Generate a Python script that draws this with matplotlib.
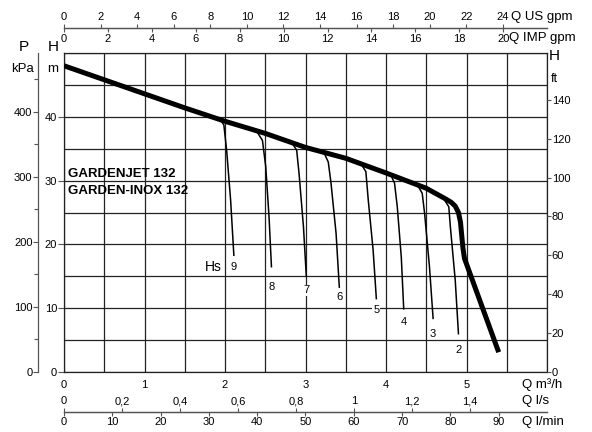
import numpy as np
import matplotlib
matplotlib.use("Agg")
import matplotlib.pyplot as plt
from matplotlib.ticker import MultipleLocator, FixedLocator

plt.rcParams['font.family'] = ['Liberation Sans', 'DejaVu Sans']

W, H = 592, 432

# courbe principale Q (m3/h) / H (m)
main_q = [0.0, 0.5, 1.0, 1.5, 2.0, 2.5, 3.0, 3.5, 4.0, 4.5, 4.73, 4.81, 4.86, 4.9, 4.925, 4.94, 4.955, 4.975, 5.4]
main_h = [48.0, 45.8, 43.6, 41.4, 39.3, 37.4, 35.2, 33.5, 31.2, 28.8, 27.2, 26.6, 26.0, 25.0, 23.5, 21.5, 19.5, 17.8, 3.1]

# courbes Hs (hauteur d'aspiration)
hs_names = ["9", "8", "7", "6", "5", "4", "3", "2"]
hs_q = [
    [1.937, 1.986, 2.02, 2.07, 2.11],
    [2.40, 2.465, 2.506, 2.547, 2.577],
    [2.83, 2.89, 2.92, 2.975, 3.01],
    [3.233, 3.283, 3.317, 3.38, 3.42],
    [3.70, 3.75, 3.78, 3.84, 3.88],
    [4.056, 4.106, 4.14, 4.19, 4.22],
    [4.40, 4.45, 4.48, 4.54, 4.585],
    [4.73, 4.78, 4.80, 4.86, 4.90],
]
hs_h = [
    [39.7, 38.7, 34.8, 26.9, 18.3],
    [37.6, 36.3, 32.2, 24.3, 16.5],
    [35.9, 34.8, 31.1, 22.7, 15.0],
    [34.3, 32.9, 29.6, 21.7, 13.3],
    [32.4, 31.4, 26.9, 19.1, 11.5],
    [31.0, 29.6, 25.9, 18.0, 9.9],
    [29.1, 28.0, 24.8, 16.5, 8.4],
    [26.9, 25.9, 22.7, 14.4, 6.0],
]
hs_label_h = [16.4, 13.3, 12.8, 11.7, 9.7, 7.8, 6.0, 3.5]

# graduations
q_m3h_ticks = [0, 1, 2, 3, 4, 5]
h_m_ticks = [0, 10, 20, 30, 40]
h_ft_ticks = [0, 20, 40, 60, 80, 100, 120, 140]
p_kpa_ticks = [0, 100, 200, 300, 400]
us_gpm_ticks = list(range(0, 25, 2))
imp_gpm_ticks = list(range(0, 21, 2))
ls_ticks = [0, 0.2, 0.4, 0.6, 0.8, 1.0, 1.2, 1.4]
ls_labels = ["0", "0,2", "0,4", "0,6", "0,8", "1", "1,2", "1,4"]
lmin_ticks = list(range(0, 91, 10))

TS = 8  # taille des graduations

fig = plt.figure(figsize=(W / 100, H / 100), dpi=100)
x0, x1, y0, y1 = 64, 547, 53, 372
ax = fig.add_axes([x0 / W, 1 - y1 / H, (x1 - x0) / W, (y1 - y0) / H])
ax.set_xlim(0, 6)
ax.set_ylim(0, 50)

gcol = '#222222'
ax.xaxis.set_major_locator(FixedLocator(q_m3h_ticks))
ax.xaxis.set_minor_locator(MultipleLocator(0.5))
ax.yaxis.set_major_locator(FixedLocator(h_m_ticks))
ax.yaxis.set_minor_locator(MultipleLocator(5))
ax.grid(which='both', color=gcol, lw=0.9)
ax.set_axisbelow(True)
ax.tick_params(axis='x', which='both', length=0, pad=6, labelsize=TS)
ax.tick_params(axis='y', which='major', length=4.5, width=0.8, pad=0.5, labelsize=TS, color='#555')
ax.tick_params(axis='y', which='minor', length=0)
for s in ax.spines.values():
    s.set_color(gcol)
    s.set_linewidth(0.9)

ax.plot(main_q, main_h, color='black', lw=3.6, solid_capstyle='butt', solid_joinstyle='round', zorder=4)
for name, qq, hh, lh in zip(hs_names, hs_q, hs_h, hs_label_h):
    ax.plot(qq, hh, color='black', lw=1.1, zorder=3)
    ax.text(qq[-1], lh, name, fontsize=8, ha='center', va='center', zorder=5,
            bbox=dict(facecolor='white', edgecolor='none', pad=0.6))
ax.text(1.86, hs_label_h[0], "Hs", fontsize=10, ha='center', va='center', zorder=5)

ax.text(0.05, 31.1, "GARDENJET 132", fontsize=9.5, fontweight='bold', va='center')
ax.text(0.05, 28.4, "GARDEN-INOX 132", fontsize=9.5, fontweight='bold', va='center')

# axe ft a droite
ax_ft = ax.twinx()
ax_ft.set_ylim(0, 50 / 0.3048)
ax_ft.yaxis.set_major_locator(FixedLocator(h_ft_ticks))
ax_ft.tick_params(axis='y', length=3, width=0.8, pad=0.5, labelsize=TS, color='#555')
for s in ax_ft.spines.values():
    s.set_visible(False)

# axe kPa a gauche
ax_p = ax.twinx()
ax_p.set_ylim(0, 50 * 9.81)
ax_p.yaxis.tick_left()
ax_p.yaxis.set_major_locator(FixedLocator(p_kpa_ticks))
ax_p.yaxis.set_minor_locator(MultipleLocator(50))
ax_p.tick_params(axis='y', which='major', length=3.5, width=0.8, pad=0.5, labelsize=TS, color='#555')
ax_p.tick_params(axis='y', which='minor', length=3, width=0.8, color='#555')
for k, s in ax_p.spines.items():
    s.set_visible(k == 'left')
ax_p.spines['left'].set_position(('outward', 18.7))
ax_p.spines['left'].set_color('#555')
ax_p.spines['left'].set_linewidth(0.9)

# axes secondaires en haut et en bas
top_pos = (y1 - 28) / (y1 - y0)
bot_pos = (y1 - 411.7) / (y1 - y0)

def sec_axis(pos, k, ticks, align, labels=None):
    sa = ax.secondary_xaxis(pos, functions=(lambda q, k=k: q * k, lambda v, k=k: v / k))
    sa.set_alignment(align)
    sa.set_xticks(ticks)
    if labels is not None:
        sa.set_xticklabels(labels)
    sa.tick_params(length=3, width=0.8, pad=1, labelsize=TS, color='#555')
    sa.spines[align].set_color('#555')
    sa.spines[align].set_linewidth(0.9)
    return sa

sec_axis(top_pos, 4.403, us_gpm_ticks, 'top')
sec_axis(top_pos, 3.666, imp_gpm_ticks, 'bottom')
sec_axis(bot_pos, 1 / 3.6, ls_ticks, 'top', ls_labels)
sec_axis(bot_pos, 16.667, lmin_ticks, 'bottom')

def ftext(x, y, s, size=9.5, ha='left'):
    fig.text(x / W, 1 - y / H, s, fontsize=size, ha=ha, va='center')

ftext(511, 17, "Q US gpm")
ftext(509, 38, "Q IMP gpm")
ftext(522, 385, "Q m³/h")
ftext(522, 401, "Q l/s")
ftext(522, 422, "Q l/min")
ftext(549, 56, "H", 11)
ftext(551, 79, "ft", 9)
ftext(24, 47, "P", 11, 'center')
ftext(22, 69, "kPa", 9.5, 'center')
ftext(53, 47, "H", 11, 'center')
ftext(53, 69, "m", 9.5, 'center')

fig.savefig("out.png", dpi=100)
